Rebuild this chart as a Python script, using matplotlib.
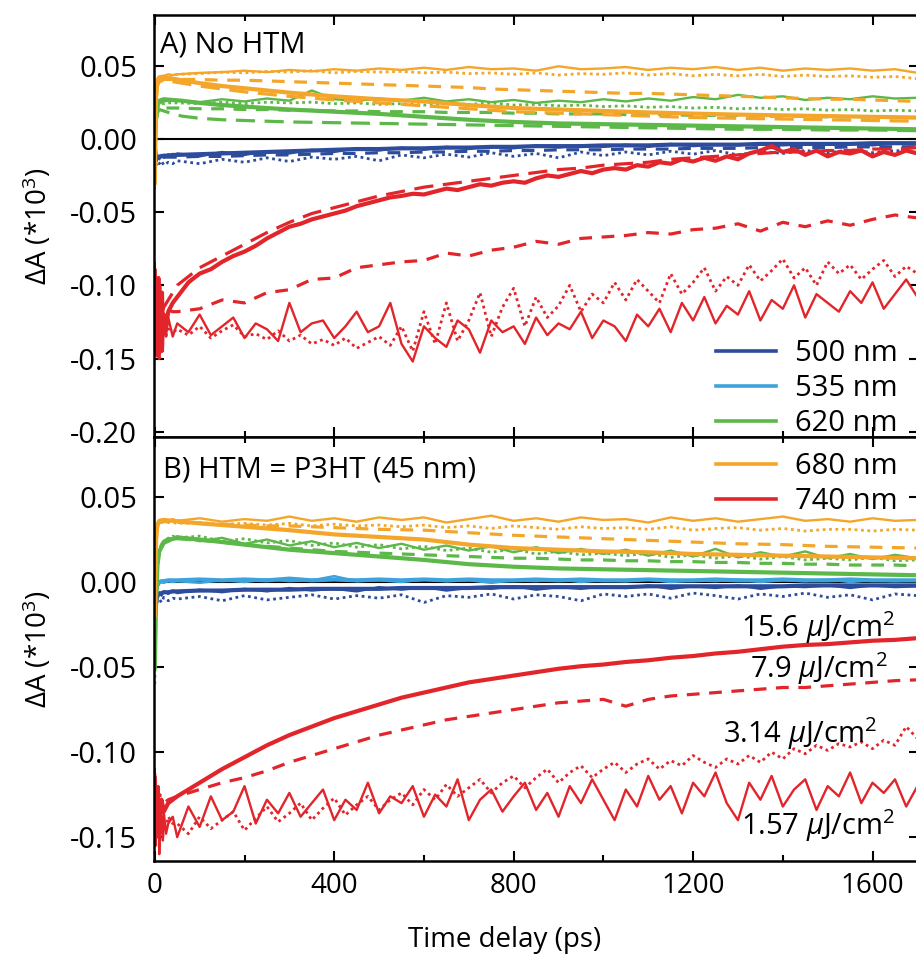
import numpy as np
import matplotlib
matplotlib.use("Agg")
import matplotlib.pyplot as plt
from matplotlib.lines import Line2D
from matplotlib.ticker import MultipleLocator, FormatStrFormatter

plt.rcParams['font.family'] = ['Open Sans', 'DejaVu Sans']
plt.rcParams['mathtext.fontset'] = 'custom'
plt.rcParams['mathtext.rm'] = 'Open Sans'
plt.rcParams['mathtext.it'] = 'Open Sans:italic'
plt.rcParams['mathtext.bf'] = 'Open Sans:bold'

# time grids (ps): coarse, medium, fine
t_c = [0, 3, 6, 10, 20, 40, 60, 100, 150, 200, 250, 300, 400, 500, 600, 700,
       800, 900, 1000, 1100, 1200, 1300, 1400, 1500, 1600, 1700]
t_m = [0, 3, 6, 10, 15, 20, 30, 40] + list(range(50, 1701, 50))
t_f = [0, 2, 4, 6, 8, 10, 12, 14, 16, 18, 20, 25, 30, 40] + list(range(50, 1701, 25))

# ---------------- panel A : No HTM  (values in 1e-3) ----------------
a_or_thick = [-30, 30, 40, 42, 42, 41, 40, 38, 36, 34.5, 33, 31.5, 29, 27, 25.5, 23,
              21, 20, 19, 18, 17.2, 16.5, 16, 15.5, 15, 14.5]
a_or_long = [-30, 25, 36, 39, 40, 39, 38, 36, 34, 32, 30.5, 29, 26.5, 24.5, 22.5, 20.5,
             18.5, 17.5, 16.5, 15.5, 14.5, 14, 13.5, 13, 12.5, 12]
a_or_dash = ([-20, 30, 38, 40, 40, 40.5, 40.5, 40.5]
             + [40.5, 40.5, 40, 40, 39.5, 39, 38.5, 38, 37.5, 37]
             + [36.5, 36, 35.5, 35, 34, 33.5, 33, 32.5, 32, 31.5]
             + [31, 31, 30.5, 30, 29.5, 29, 28.5, 28, 27.5, 27]
             + [27, 26.5, 26, 25.5])
a_or_dot = ([-30, 32, 39, 41, 42, 42.5, 43, 43.5]
            + [44, 44.5, 45.5, 45, 46, 45.5, 46.5, 45, 46, 45.5]
            + [46, 45, 45.5, 44.5, 45, 44, 45, 43.5, 44.5, 44]
            + [45, 43.5, 44.5, 43, 44, 43, 44, 42.5, 43.5, 42.5]
            + [43, 42, 42.5, 41])
a_or_thin = ([-34, 35, 40, 42, 43, 43, 44, 43.5]
             + [44, 45, 45.5, 46.5, 45.5, 47, 46, 47.5, 46.5, 48]
             + [47, 48.5, 47, 49, 47.5, 48, 46.5, 49.5, 47.5, 48]
             + [49, 47, 48.5, 47.5, 49, 47, 48.5, 46.5, 48, 47]
             + [48, 46.5, 47.5, 45])

a_gr_thick = [-5, 15, 24, 26, 27, 26.5, 26, 24.5, 23, 22, 21, 20, 18.5, 17, 15, 13,
              11.5, 10.5, 10, 9.5, 9, 8.5, 8, 7.5, 7, 6.5]
a_gr_long = [-5, 12, 18, 20, 19, 17, 15.5, 14, 13, 12.5, 12, 11.5, 11, 10.5, 10, 9.5,
             9, 8.5, 8, 7.5, 7, 6.5, 6.5, 6, 6, 5.5]
a_gr_dash = ([-5, 12, 18, 20, 20.5, 21, 21, 21]
             + [21, 20.5, 20.5, 20, 20, 19.5, 19.5, 19, 19, 18.5]
             + [18.5, 18.5, 18, 18, 18, 17.5, 17.5, 17, 17, 17]
             + [16.5, 16.5, 16.5, 16, 16, 16, 15.5, 15.5, 15.5, 15]
             + [15, 15, 14.5, 14.5])
a_gr_dot = ([-5, 14, 21, 23, 24, 24, 24.5, 24.5]
            + [24.5, 24, 25, 24, 25, 24.5, 25, 24, 24.5, 23.5]
            + [24, 23, 24, 23.5, 24.5, 23, 23.5, 22.5, 23, 22]
            + [22.5, 21.5, 22, 21, 21.5, 20.5, 21, 20, 20.5, 19.5]
            + [20, 19, 19.5, 19])
a_gr_thin = ([-5, 15, 22, 24, 25, 25.5, 26, 26]
             + [26, 25, 27, 25.5, 27.5, 26, 33, 27, 26, 27.5]
             + [26, 28, 25.5, 27, 25, 26.5, 24.5, 26, 25, 27]
             + [25.5, 27.5, 26, 28.5, 27, 30, 28, 29, 26.5, 28]
             + [27, 29, 27.5, 28])

a_bl_thick = ([-5, -14, -13, -12, -12, -11.5, -11.5, -11]
              + [-11, -10.5, -10, -9.5, -9, -8.5, -8, -7.5, -7, -7]
              + [-6.5, -6.5, -6, -6, -5.5, -5.5, -5, -5, -5, -4.5]
              + [-4.5, -4.5, -4, -4, -4, -4, -3.5, -3.5, -3.5, -3.5]
              + [-3.5, -3, -3, -3])
a_bl_thin = ([-8, -16, -12, -14, -11, -13, -10.5, -12.5]
             + [-10, -12, -9, -11, -8.5, -10, -7.5, -9, -6.5, -8]
             + [-6, -7.5, -5.5, -7, -5, -6.5, -4.5, -6, -4.5, -5.5]
             + [-4, -5.5, -3.5, -5, -4, -4.5, -3, -4.5, -3.5, -4]
             + [-3, -4.5, -3, -4])
a_bl_dash = ([-6, -15, -14, -13, -13, -12.5, -12.5, -12.5]
             + [-12.5, -12, -12, -11.5, -11, -11, -10.5, -10, -10, -9.5]
             + [-9.5, -9, -9, -8.5, -8.5, -8, -8, -7.5, -7.5, -7.5]
             + [-7, -7, -7, -6.5, -6.5, -6.5, -6, -6, -6, -6]
             + [-5.5, -5.5, -5.5, -5.5])
a_bl_dot = ([-8, -18, -16, -17, -15, -18, -16, -17]
            + [-15, -17, -14, -16, -13, -15.5, -12.5, -14, -12, -15]
            + [-11, -13, -10.5, -12.5, -9.5, -12, -10, -13, -9, -11.5]
            + [-9, -11, -8.5, -10.5, -8, -11, -8.5, -10, -8, -9.5]
            + [-7.5, -9.5, -8, -9])

a_rd_thick = ([-90, -140, -100, -148, -95, -135, -110, -145, -105, -130, -120, -128, -118, -112]
              + [-108, -98, -92, -89, -84, -80, -77, -73, -68, -64]
              + [-60, -58, -55, -53, -51, -49, -46, -44, -42, -40]
              + [-39, -37.5, -38, -36, -34, -35, -33, -31, -32, -30]
              + [-29, -30, -27, -25, -26, -24, -22, -23.5, -21, -20]
              + [-21, -18, -19, -16, -17, -14, -15.5, -13, -15, -12]
              + [-14, -10, -8, -5, -9, -7, -11, -8, -12, -9]
              + [-10, -8, -12, -9, -11, -8, -10])
a_rd_long = ([-95, -130, -110, -125, -120, -115, -110, -105]
             + [-100, -88, -80, -72, -64, -57, -51, -47, -43, -39]
             + [-36, -33, -31, -29, -27, -25, -23, -21, -20, -18]
             + [-17, -16, -14, -13, -12, -11, -10, -9, -9, -8]
             + [-8, -7, -7, -6])
a_rd_dash = ([-95, -130, -120, -125, -120, -118, -117, -118]
             + [-118, -116, -110, -112, -105, -103, -96, -95, -88, -86]
             + [-84, -83, -78, -80, -76, -74, -70, -72, -68, -67]
             + [-66, -64, -65, -62, -61, -58, -63, -57, -60, -56]
             + [-59, -55, -52, -54])
a_rd_dot = ([-90, -145, -110, -140, -100, -150, -115, -135, -125, -130, -120, -135, -128, -132]
            + [-130, -134, -128, -136, -131, -127, -135, -133, -137, -131]
            + [-138, -134, -140, -137, -141, -136, -143, -139, -135, -141]
            + [-128, -145, -118, -140, -112, -138, -124, -105, -135, -115]
            + [-102, -128, -108, -122, -114, -100, -118, -106, -112, -98]
            + [-110, -96, -104, -112, -92, -106, -98, -88, -104, -94]
            + [-100, -86, -97, -90, -82, -95, -88, -100, -84, -92]
            + [-86, -96, -89, -83, -94, -87, -92])
a_rd_thin = ([-85, -148, -95, -140, -105, -150, -100, -138, -118, -145, -125, -135, -122, -135]
             + [-126, -132, -120, -134, -128, -122, -136, -126, -130, -138]
             + [-112, -132, -126, -124, -136, -128, -118, -132, -128, -112]
             + [-140, -152, -128, -136, -142, -124, -130, -146, -124, -132]
             + [-128, -140, -122, -134, -126, -130, -118, -136, -124, -128]
             + [-138, -120, -128, -116, -132, -112, -124, -108, -126, -114]
             + [-120, -104, -124, -110, -116, -100, -122, -106, -112, -118]
             + [-104, -112, -98, -116, -106, -96, -108])

# ---------------- panel B : HTM = P3HT (values in 1e-3) ----------------
b_or_thick = [-20, 25, 34, 36, 36.5, 36, 35.5, 34.5, 33.5, 32.5, 31.5, 30.5, 28, 26.5, 25, 22,
              20, 19, 18, 17.5, 16.5, 16, 15.5, 15, 14.5, 14]
b_or_dash = [-20, 25, 33, 35, 35.5, 35.5, 35, 34.5, 34, 33.5, 33, 33, 32, 31, 30.5, 29,
             27.5, 26.5, 25.5, 24.5, 23.5, 22.5, 22, 21, 20.5, 20]
b_or_thin = ([-25, 28, 34, 36, 36.5, 37, 36, 37]
             + [36, 37.5, 35.5, 37, 36, 38.5, 36, 37.5, 35.5, 38]
             + [36.5, 38, 35, 37, 39, 36, 37.5, 35.5, 38, 36.5]
             + [37, 35, 38, 36, 37.5, 35.5, 37, 38.5, 36, 37]
             + [35.5, 37.5, 36, 36.5])
b_or_dot = ([-20, 27, 33, 35, 35, 35.5, 35, 35]
            + [34.5, 35, 34, 34.5, 33.5, 34.5, 33, 34, 33, 33.5]
            + [32.5, 33.5, 32, 33, 31.5, 33, 32, 31, 32.5, 31.5]
            + [32, 31, 32.5, 30.5, 31.5, 32, 30.5, 31.5, 30, 31]
            + [31, 30, 31, 30.5])

b_gr_thick = [-50, -10, 10, 18, 23, 25.5, 26, 25, 23.5, 22, 20.5, 19, 17, 15, 13, 10.5,
              9, 8, 7.5, 7, 6.5, 6, 5.5, 5, 4.5, 4]
b_gr_dash = ([-45, -5, 12, 19, 22, 24, 25, 25.5]
             + [25.5, 24.5, 23.5, 22, 21, 20, 19, 18, 17.5, 17]
             + [16.5, 16, 15.5, 15, 14.5, 14, 14, 13.5, 13, 13]
             + [12.5, 12.5, 12, 12, 11.5, 11.5, 11, 11, 10.5, 10.5]
             + [10, 10, 10, 9.5])
b_gr_thin = ([-50, -8, 10, 18, 22, 24, 26, 25]
             + [27, 24, 26, 22.5, 25, 21.5, 24, 20.5, 23, 20]
             + [22.5, 19, 21.5, 18.5, 21, 17.5, 20.5, 17, 19.5, 16.5]
             + [19, 15.5, 18.5, 15, 19.5, 14.5, 17.5, 15, 18, 14]
             + [16.5, 13.5, 16, 14])
b_gr_dot = ([-60, -15, 8, 17, 21, 23, 25, 27]
            + [26, 27, 24, 25.5, 23, 24.5, 21.5, 23, 20.5, 22]
            + [19.5, 21, 18.5, 20, 17.5, 19.5, 16.5, 18, 16, 17]
            + [15.5, 17, 14.5, 16, 14, 15.5, 13.5, 15, 13, 14]
            + [13, 14.5, 12.5, 13])

b_lb_thick = ([-12, -5, -1, 0, 0.5, 0.5, 1, 1]
              + [1, 1.5, 1, 1.5, 1, 2, 1, 1.5, 1, 1.5]
              + [1, 1.5, 1, 1.5, 1, 1, 1.5, 1, 1.5, 1]
              + [1, 1.5, 1, 1, 1.5, 1, 1, 1.5, 1, 1]
              + [1.5, 1, 1, 1])
b_lb_thin = ([-15, -8, -3, -1, 0, -0.5, 0.5, 0]
             + [0.5, -0.5, 1, 0, 1.5, 0.5, 1, 3.5, 0.5, 1]
             + [0, 1.5, 0.5, 1, -0.5, 1, 0.5, 1.5, 0, 1]
             + [0.5, 1.5, 0, 1, 0.5, 1.5, 0, 1, 0.5, 1.5]
             + [0, 1, 0.5, 1])

b_bl_thick = ([-15, -12, -8, -7, -6.5, -6, -6, -5.5]
              + [-5.5, -5, -5, -4.5, -4.5, -4.5, -4, -4, -4, -4]
              + [-3.5, -3.5, -3.5, -3.5, -3, -3, -3, -3, -3, -3]
              + [-3, -2.5, -2.5, -2.5, -2.5, -2.5, -2.5, -2.5, -2, -2]
              + [-2, -2, -2, -2])
b_bl_thin = ([-18, -10, -9, -6, -8, -5.5, -7, -5]
             + [-6.5, -4.5, -6, -4, -5.5, -3.5, -5, -4, -5.5, -3]
             + [-4.5, -3, -5, -3.5, -4, -2.5, -4.5, -3, -4, -2.5]
             + [-3.5, -2, -4, -2.5, -3.5, -2, -4, -2.5, -3, -2]
             + [-3.5, -2, -3, -2.5])
b_bl_dot = ([-20, -14, -11, -10, -12, -9, -11, -9.5]
            + [-10, -8.5, -11, -8, -10.5, -9, -7.5, -10, -8, -9.5]
            + [-7.5, -12, -8, -9, -7, -10, -7.5, -8.5, -11, -7]
            + [-8.5, -7, -9.5, -6.5, -8, -10, -7, -8.5, -6.5, -9]
            + [-7.5, -10.5, -7, -8])

b_rd_thick = ([-115, -140, -125, -138, -128, -135, -130, -128]
              + [-126, -118, -110, -103, -96, -90, -85, -80, -76, -72]
              + [-68, -65, -62, -59, -57, -55, -53, -51, -49.5, -48.5]
              + [-47, -46, -44.5, -43.5, -42, -41, -39.5, -38, -37, -36.5]
              + [-35.5, -34.5, -34, -33])
b_rd_dash = ([-115, -135, -128, -132, -128, -130, -128, -127]
             + [-126, -122, -118, -115, -111, -106, -102, -98, -94, -90]
             + [-87, -84, -81, -79, -77, -75, -73, -71, -70, -69]
             + [-73, -69, -67, -66, -65, -64, -63, -62, -62, -61]
             + [-60, -59, -58, -57.5])
b_rd_dot = ([-112, -150, -120, -145, -130, -155, -125, -148, -135, -150, -140, -145, -138, -142]
            + [-142, -148, -138, -145, -140, -135, -146, -139, -132, -141]
            + [-136, -130, -140, -133, -127, -137, -131, -126, -134, -128]
            + [-124, -131, -122, -128, -119, -126, -121, -116, -124, -118]
            + [-114, -121, -115, -110, -118, -112, -108, -115, -110, -106]
            + [-112, -107, -104, -110, -105, -108, -102, -106, -109, -104]
            + [-107, -102, -106, -100, -104, -98, -101, -96, -99, -95]
            + [-97, -94, -98, -93, -96, -85, -92])
b_rd_thin = ([-110, -155, -125, -150, -120, -160, -130, -145, -140, -152, -135, -148, -142, -138]
             + [-150, -132, -144, -126, -140, -135, -120, -142, -128, -136]
             + [-124, -138, -130, -122, -140, -128, -134, -118, -136, -126]
             + [-130, -120, -138, -125, -132, -116, -140, -128, -122, -135]
             + [-126, -118, -134, -124, -138, -120, -130, -116, -128, -140]
             + [-122, -132, -114, -128, -120, -136, -118, -126, -112, -130]
             + [-140, -118, -128, -114, -132, -122, -116, -134, -120, -126]
             + [-112, -130, -118, -124, -116, -132, -120])

wavelengths = ['500 nm', '535 nm', '620 nm', '680 nm', '740 nm']
colors = {'500': '#2d4c9c', '535': '#3ea3dd', '620': '#5cb848', '680': '#f4a62a', '740': '#e2252b'}
fluences = ['15.6 $\\mu$J/cm$^2$', '7.9 $\\mu$J/cm$^2$', '3.14 $\\mu$J/cm$^2$', '1.57 $\\mu$J/cm$^2$']

styles = {
    'thick': dict(lw=3.0, ls='-'),
    'long': dict(lw=2.3, dashes=(6, 3)),
    'dash': dict(lw=2.3, dashes=(4, 3)),
    'dot': dict(lw=2.0, dashes=(1, 1.3)),
    'thin': dict(lw=1.7, ls='-'),
}

series_a = [
    ('500', 'thick', t_m, a_bl_thick), ('500', 'dash', t_m, a_bl_dash),
    ('500', 'dot', t_m, a_bl_dot), ('500', 'thin', t_m, a_bl_thin),
    ('620', 'thick', t_c, a_gr_thick), ('620', 'long', t_c, a_gr_long),
    ('620', 'dash', t_m, a_gr_dash), ('620', 'dot', t_m, a_gr_dot), ('620', 'thin', t_m, a_gr_thin),
    ('680', 'thick', t_c, a_or_thick), ('680', 'long', t_c, a_or_long),
    ('680', 'dash', t_m, a_or_dash), ('680', 'dot', t_m, a_or_dot), ('680', 'thin', t_m, a_or_thin),
    ('740', 'thick', t_f, a_rd_thick), ('740', 'long', t_m, a_rd_long),
    ('740', 'dash', t_m, a_rd_dash), ('740', 'dot', t_f, a_rd_dot), ('740', 'thin', t_f, a_rd_thin),
]
series_b = [
    ('500', 'thick', t_m, b_bl_thick), ('500', 'dot', t_m, b_bl_dot), ('500', 'thin', t_m, b_bl_thin),
    ('535', 'thick', t_m, b_lb_thick), ('535', 'thin', t_m, b_lb_thin),
    ('620', 'thick', t_c, b_gr_thick), ('620', 'dash', t_m, b_gr_dash),
    ('620', 'dot', t_m, b_gr_dot), ('620', 'thin', t_m, b_gr_thin),
    ('680', 'thick', t_c, b_or_thick), ('680', 'dash', t_c, b_or_dash),
    ('680', 'dot', t_m, b_or_dot), ('680', 'thin', t_m, b_or_thin),
    ('740', 'thick', t_m, b_rd_thick), ('740', 'dash', t_m, b_rd_dash),
    ('740', 'dot', t_f, b_rd_dot), ('740', 'thin', t_f, b_rd_thin),
]

fig = plt.figure(figsize=(9.16, 9.61), dpi=100)
axA = fig.add_axes([0.168, 0.5453, 0.835, 0.4391])
axB = fig.add_axes([0.168, 0.1041, 0.835, 0.4412])

for ax, series in ((axA, series_a), (axB, series_b)):
    ax.axhline(0, color='black', lw=1.5, zorder=1.5)
    for key, st, t, vals in series:
        ax.plot(t, np.array(vals) / 1000.0, color=colors[key], **styles[st])
    ax.set_xlim(-2, 1703)
    ax.xaxis.set_major_locator(MultipleLocator(400))
    ax.xaxis.set_minor_locator(MultipleLocator(200))
    ax.yaxis.set_major_formatter(FormatStrFormatter('%.2f'))
    ax.tick_params(which='both', direction='in', top=True, right=True, width=1.5)
    ax.tick_params(which='major', length=7)
    ax.tick_params(which='minor', length=4.5)
    ax.tick_params(axis='y', labelsize=21, pad=12)
    for s in ax.spines.values():
        s.set_linewidth(1.8)
    ax.set_ylabel('ΔA (*10$^3$)', fontsize=20)
    ax.yaxis.set_label_coords(-0.13, 0.5)

axA.set_ylim(-0.2035, 0.0845)
axA.set_yticks([0.05, 0.0, -0.05, -0.10, -0.15, -0.20])
axA.tick_params(axis='x', labelbottom=False)
axB.set_ylim(-0.164, 0.0853)
axB.set_yticks([0.05, 0.0, -0.05, -0.10, -0.15])
axB.tick_params(axis='x', labelsize=20, pad=8)
axB.set_xlabel('Time delay (ps)', fontsize=20)
axB.xaxis.set_label_coords(0.459, -0.153)

axA.text(0.008, 0.929, 'A) No HTM', transform=axA.transAxes, fontsize=21, va='center', ha='left')
axB.text(0.012, 0.922, 'B) HTM = P3HT (45 nm)', transform=axB.transAxes, fontsize=21,
         va='center', ha='left')

# fluence labels
fl_pos = [(0.969, 0.5495), (0.960, 0.453), (0.946, 0.2995), (0.969, 0.0825)]
for lab, (x, y) in zip(fluences, fl_pos):
    axB.text(x, y, lab, transform=axB.transAxes, fontsize=21, ha='right', va='center')

keys = ['500', '535', '620', '680', '740']
handles = [Line2D([], [], color=colors[k], lw=2.6) for k in keys]
legA = axA.legend(handles[:3], wavelengths[:3], loc='upper left', bbox_to_anchor=(0.7346, 0.231),
                  frameon=False, fontsize=21, handlelength=2.05, handletextpad=0.65,
                  labelspacing=0.2, borderpad=0, borderaxespad=0)
legA.set_zorder(10)
legB = axB.legend(handles[3:], wavelengths[3:], loc='upper left', bbox_to_anchor=(0.7346, 0.9637),
                  frameon=False, fontsize=21, handlelength=2.05, handletextpad=0.65,
                  labelspacing=0.2, borderpad=0, borderaxespad=0)
legB.set_zorder(10)

fig.savefig('out.png', dpi=100)
